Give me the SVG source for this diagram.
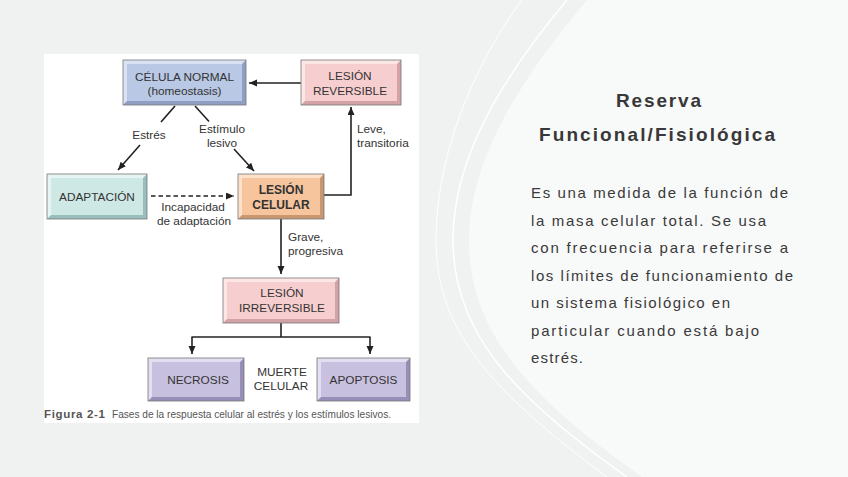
<svg xmlns="http://www.w3.org/2000/svg" width="848" height="477" viewBox="0 0 848 477">
<style>
.bg{fill:#f0f1f1}
.lite{fill:#f8f9f9}
.curve{fill:none;stroke:#ffffff}
.fig{fill:#ffffff}
.outline{fill:none;stroke:#777;stroke-width:0.8}
.bt{font-family:"Liberation Sans",Arial,sans-serif;font-size:11.8px;fill:#333;text-anchor:middle}
.bb{font-weight:bold;font-size:12px}
.lbl{font-family:"Liberation Sans",Arial,sans-serif;font-size:11.8px;fill:#333}
.mid{text-anchor:middle}
.cap{font-family:"Liberation Sans",Arial,sans-serif;fill:#555}
.conn{fill:none;stroke:#222;stroke-width:1.6}
.dash{stroke-dasharray:4.5,3}
.title{font-family:"Liberation Sans",Arial,sans-serif;font-weight:bold;font-size:19px;fill:#383838}
.body{font-family:"Liberation Sans",Arial,sans-serif;font-size:15px;fill:#3a3a3a}
.blue .dk{fill:#8e9fc3}.blue .lt{fill:#d9e2f2}.blue .face{fill:#b9c8e4}
.pink .dk{fill:#d3a2a4}.pink .lt{fill:#fde6e6}.pink .face{fill:#f7cecf}
.teal .dk{fill:#98bfbc}.teal .lt{fill:#e6f5f4}.teal .face{fill:#cee8e6}
.peach .dk{fill:#c99770}.peach .lt{fill:#fde1c9}.peach .face{fill:#f6c59d}
.lav .dk{fill:#988fb8}.lav .lt{fill:#e3def1}.lav .face{fill:#c8c0df}
</style>
<defs>
<marker id="ah" markerUnits="userSpaceOnUse" markerWidth="9" markerHeight="8" refX="8" refY="3.5" orient="auto">
<path d="M0,0 L8,3.5 L0,7 Z" fill="#222"/>
</marker>
</defs>

<rect class="bg" x="0" y="0" width="848" height="477"/>
<path class="lite" d="M587,0 C520,80 469,160 469,240 C469,330 525,395 642,477 L848,477 L848,0 Z"/>
<path class="curve" stroke-width="1" d="M522,0 C470,70 436,160 436,240 C436,330 490,390 607,477"/>
<path class="curve" stroke-width="1.5" d="M567,0 C500,80 453,160 453,240 C453,330 510,395 627,477"/>

<rect class="fig" x="44" y="54" width="375" height="369"/>

<g id="connectors">
<line class="conn" x1="175" y1="106" x2="161" y2="122"/>
<line class="conn" x1="140" y1="145" x2="118" y2="170" marker-end="url(#ah)"/>
<line class="conn" x1="195" y1="106" x2="209" y2="121.5"/>
<line class="conn" x1="234" y1="149" x2="254" y2="171" marker-end="url(#ah)"/>
<line class="conn" x1="301" y1="83" x2="249" y2="83" marker-end="url(#ah)"/>
<polyline class="conn" points="324,195 351,195 351,107" marker-end="url(#ah)"/>
<line class="conn dash" x1="151" y1="196" x2="234" y2="196" marker-end="url(#ah)"/>
<line class="conn" x1="281" y1="219" x2="281" y2="274" marker-end="url(#ah)"/>
<line class="conn" x1="281" y1="323" x2="281" y2="337"/>
<line class="conn" x1="191.5" y1="337" x2="370.5" y2="337"/>
<line class="conn" x1="192" y1="337" x2="192" y2="354" marker-end="url(#ah)"/>
<line class="conn" x1="370" y1="337" x2="370" y2="354" marker-end="url(#ah)"/>
</g>

<g id="labels">
<text class="lbl mid" x="149" y="139">Estrés</text>
<text class="lbl mid" x="222" y="133">Estímulo</text>
<text class="lbl mid" x="222" y="147">lesivo</text>
<text class="lbl" x="357" y="133">Leve,</text>
<text class="lbl" x="357" y="147">transitoria</text>
<text class="lbl mid" x="193" y="211">Incapacidad</text>
<text class="lbl mid" x="194" y="225">de adaptación</text>
<text class="lbl" x="288" y="241">Grave,</text>
<text class="lbl" x="288" y="255">progresiva</text>
<text class="lbl mid" x="282" y="376">MUERTE</text>
<text class="lbl mid" x="281" y="390">CELULAR</text>
</g>

<g id="node-celula-normal" class="blue">
<rect class="dk" x="123" y="60" width="123" height="45"/>
<path class="lt" d="M123,60 H246 L242,64 H127 V101 L123,105 Z"/>
<rect class="face" x="127" y="64" width="115" height="37"/>
<rect class="outline" x="123" y="60" width="123" height="45"/>
<text class="bt" x="184.5" y="81">CÉLULA NORMAL</text>
<text class="bt" x="184.5" y="95">(homeostasis)</text>
</g>

<g id="node-lesion-reversible" class="pink">
<rect class="dk" x="301" y="60" width="100" height="45"/>
<path class="lt" d="M301,60 H401 L397,64 H305 V101 L301,105 Z"/>
<rect class="face" x="305" y="64" width="92" height="37"/>
<rect class="outline" x="301" y="60" width="100" height="45"/>
<text class="bt" x="350" y="80">LESIÓN</text>
<text class="bt" x="350" y="95">REVERSIBLE</text>
</g>

<g id="node-adaptacion" class="teal">
<rect class="dk" x="47" y="174" width="100" height="45"/>
<path class="lt" d="M47,174 H147 L143,178 H51 V215 L47,219 Z"/>
<rect class="face" x="51" y="178" width="92" height="37"/>
<rect class="outline" x="47" y="174" width="100" height="45"/>
<text class="bt" x="97" y="201">ADAPTACIÓN</text>
</g>

<g id="node-lesion-celular" class="peach">
<rect class="dk" x="238" y="174" width="86" height="45"/>
<path class="lt" d="M238,174 H324 L320,178 H242 V215 L238,219 Z"/>
<rect class="face" x="242" y="178" width="78" height="37"/>
<rect class="outline" x="238" y="174" width="86" height="45"/>
<text class="bt bb" x="281" y="194">LESIÓN</text>
<text class="bt bb" x="281" y="209">CELULAR</text>
</g>

<g id="node-lesion-irreversible" class="pink">
<rect class="dk" x="223" y="278" width="116" height="45"/>
<path class="lt" d="M223,278 H339 L335,282 H227 V319 L223,323 Z"/>
<rect class="face" x="227" y="282" width="108" height="37"/>
<rect class="outline" x="223" y="278" width="116" height="45"/>
<text class="bt" x="282" y="297">LESIÓN</text>
<text class="bt" x="282" y="312">IRREVERSIBLE</text>
</g>

<g id="node-necrosis" class="lav">
<rect class="dk" x="148" y="358" width="96" height="43"/>
<path class="lt" d="M148,358 H244 L240,362 H152 V397 L148,401 Z"/>
<rect class="face" x="152" y="362" width="88" height="35"/>
<rect class="outline" x="148" y="358" width="96" height="43"/>
<text class="bt" x="198" y="384">NECROSIS</text>
</g>

<g id="node-apoptosis" class="lav">
<rect class="dk" x="317" y="358" width="93" height="43"/>
<path class="lt" d="M317,358 H410 L406,362 H321 V397 L317,401 Z"/>
<rect class="face" x="321" y="362" width="85" height="35"/>
<rect class="outline" x="317" y="358" width="93" height="43"/>
<text class="bt" x="363.5" y="384">APOPTOSIS</text>
</g>

<g id="caption">
<text class="cap" x="44" y="418" font-size="11.5" font-weight="bold" fill="#444" textLength="61" lengthAdjust="spacing">Figura 2-1</text>
<text class="cap" x="112" y="418" font-size="10.5" textLength="279" lengthAdjust="spacingAndGlyphs">Fases de la respuesta celular al estrés y los estímulos lesivos.</text>
</g>

<g id="text-panel">
<text class="title" x="616" y="107" textLength="85" lengthAdjust="spacing">Reserva</text>
<text class="title" x="539" y="141" textLength="236" lengthAdjust="spacing">Funcional/Fisiológica</text>
<text class="body" x="531" y="198" textLength="257" lengthAdjust="spacing">Es una medida de la función de</text>
<text class="body" x="531" y="225.5" textLength="235" lengthAdjust="spacing">la masa celular total. Se usa</text>
<text class="body" x="531" y="253" textLength="257" lengthAdjust="spacing">con frecuencia para referirse a</text>
<text class="body" x="531" y="280.5" textLength="262" lengthAdjust="spacing">los límites de funcionamiento de</text>
<text class="body" x="531" y="308" textLength="199" lengthAdjust="spacing">un sistema fisiológico en</text>
<text class="body" x="531" y="335.5" textLength="228" lengthAdjust="spacing">particular cuando está bajo</text>
<text class="body" x="531" y="363" textLength="52" lengthAdjust="spacing">estrés.</text>
</g>
</svg>
